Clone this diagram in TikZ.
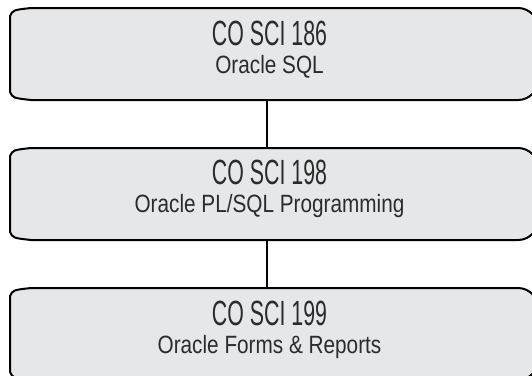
\documentclass[tikz,border=0pt]{standalone}
\usepackage{fontspec}
\setmainfont{Liberation Sans}
\newfontfamily\numfont{Liberation Sans}[FakeStretch=0.61]
\newfontfamily\titlefont{Liberation Sans}[FakeStretch=0.83]
\usetikzlibrary{positioning}
\definecolor{boxgray}{HTML}{E6E7E8}
\definecolor{inkgray}{HTML}{2B2B2B}
\newcommand{\courseno}[1]{{\numfont\fontsize{35}{35}\selectfont #1}}
% outline of a course box: shallow left corners, wide right ones
\newcommand{\courseframe}[1]{%
  \draw[frame] ([yshift=-8pt]#1.north west)
    .. controls ([xshift=3pt,yshift=-2pt]#1.north west) .. ([xshift=21pt]#1.north west)
    -- ([xshift=-20pt]#1.north east) arc[start angle=90, end angle=0, radius=20pt]
    -- ([yshift=20pt]#1.south east) arc[start angle=0, end angle=-90, radius=20pt]
    -- ([xshift=21pt]#1.south west)
    .. controls ([xshift=3pt,yshift=2pt]#1.south west) .. ([yshift=8pt]#1.south west)
    -- cycle;}
\tikzset{
  course/.style={minimum width=526pt, minimum height=90pt, inner sep=0pt, outer sep=1pt},
  frame/.style={draw=black, fill=boxgray, line width=2pt},
  coursetext/.style={align=center, text=inkgray, inner sep=0pt,
    font=\titlefont\fontsize{25}{28}\selectfont},
  link/.style={draw=black, line width=2pt}
}
\begin{document}
\begin{tikzpicture}
  \path[use as bounding box, clip] (0,0) rectangle (532pt,-375pt);
  % course boxes
  \node[course] (sql) at (274pt,-54pt) {};
  \node[course, below=48pt of sql] (plsql) {};
  \node[course, below=48pt of plsql] (forms) {};
  \courseframe{sql}
  \courseframe{plsql}
  \courseframe{forms}
  \node[coursetext] (sqltext) at ([xshift=-4.5pt,yshift=4pt]sql.center) {\courseno{CO SCI 186}\\Oracle SQL};
  \node[coursetext] (plsqltext) at ([xshift=-4.5pt,yshift=5pt]plsql.center) {\courseno{CO SCI 198}\\Oracle PL/SQL Programming};
  \node[coursetext] (formstext) at ([xshift=-4.5pt,yshift=4pt]forms.center) {\courseno{CO SCI 199}\\Oracle Forms \& Reports};
  % prerequisites
  \draw[link] ([xshift=-7.5pt]sql.south) -- ([xshift=-7.5pt]plsql.north);
  \draw[link] ([xshift=-7.5pt]plsql.south) -- ([xshift=-7.5pt]forms.north);
\end{tikzpicture}
\end{document}
